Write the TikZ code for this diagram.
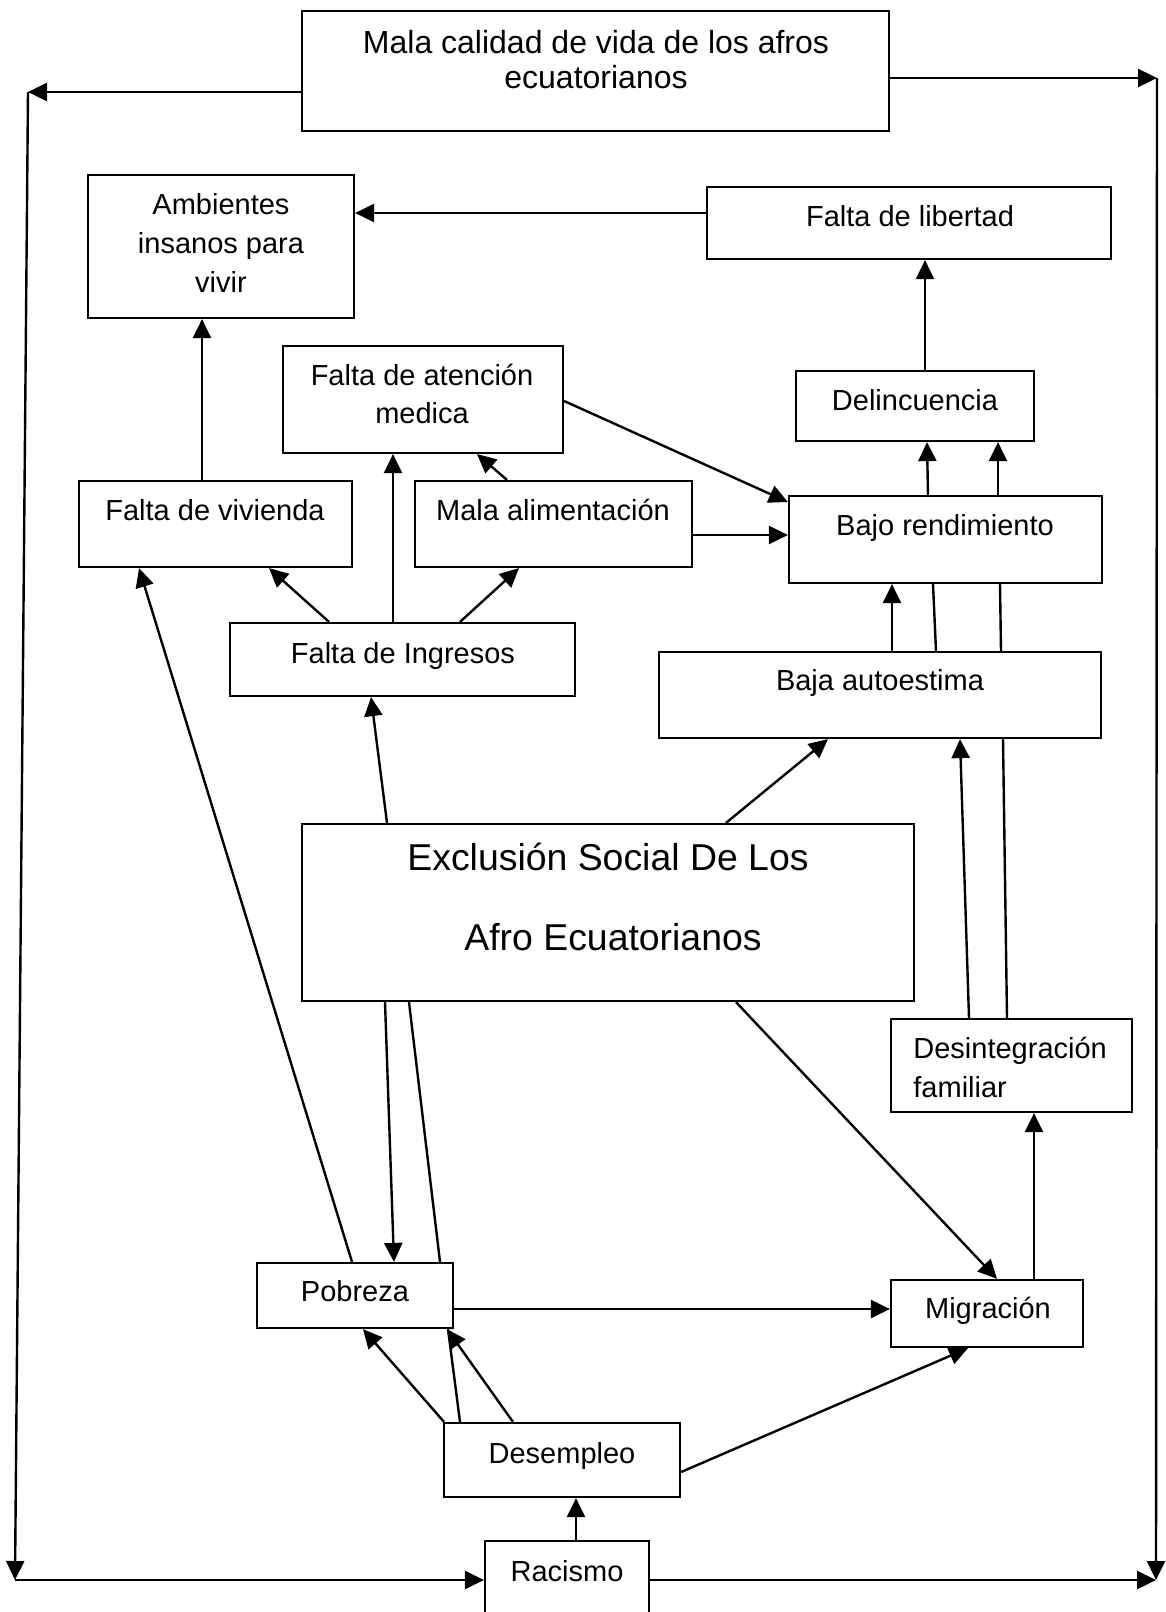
\documentclass[tikz,border=0pt]{standalone}
\usepackage{fontspec}
\setmainfont{Liberation Sans}
\usetikzlibrary{arrows.meta,fit}
\begin{document}
\begin{tikzpicture}[x=0.5pt,y=-0.5pt,
  box/.style={draw,line width=1.1pt,inner sep=0pt,fill=none},
  txt/.style={inner sep=0pt,anchor=base,font=\fontsize{14.5}{17}\selectfont},
  txtbig/.style={inner sep=0pt,anchor=base,font=\fontsize{16}{19}\selectfont},
  txthuge/.style={inner sep=0pt,anchor=base,font=\fontsize{18.7}{22}\selectfont},
  arr/.style={line width=1.2pt,-{Triangle[length=9.5pt,width=9pt]}},
  ln/.style={line width=1.2pt}]
\useasboundingbox (0,0) rectangle (1166,1612);
\clip (0,0) rectangle (1166,1612);
% boxes
\node[box,fit={(302,11) (889,131)}] (top) {};
\node[box,fit={(88,175) (354,318)}] (amb) {};
\node[box,fit={(707,187) (1111,259)}] (lib) {};
\node[box,fit={(283,346) (563,453)}] (aten) {};
\node[box,fit={(796,371) (1034,441)}] (del) {};
\node[box,fit={(79,481) (352,567)}] (viv) {};
\node[box,fit={(415,481) (692,567)}] (ali) {};
\node[box,fit={(789,496) (1102,583)}] (bajo) {};
\node[box,fit={(230,623) (575,696)}] (ing) {};
\node[box,fit={(659,652) (1101,738)}] (aut) {};
\node[box,fit={(302,824) (914,1001)}] (exc) {};
\node[box,fit={(891,1019) (1132,1112)}] (des) {};
\node[box,fit={(257,1263) (453,1328)}] (pob) {};
\node[box,fit={(891,1280) (1083,1347)}] (mig) {};
\node[box,fit={(444,1423) (680,1497)}] (dem) {};
\node[box,fit={(485,1541) (649,1640)}] (rac) {};
% texts
\node[txtbig] (ttop1) at (596,53) {Mala calidad de vida de los afros};
\node[txtbig] (ttop2) at (596,88) {ecuatorianos};
\node[txt] (tamb1) at (221,214) {Ambientes};
\node[txt] (tamb2) at (221,253) {insanos para};
\node[txt] (tamb3) at (221,292) {vivir};
\node[txt] (tlib) at (910,226) {Falta de libertad};
\node[txt] (taten1) at (422,385) {Falta de atención};
\node[txt] (taten2) at (422,423) {medica};
\node[txt] (tdel) at (915,410) {Delincuencia};
\node[txt] (tviv) at (215,520) {Falta de vivienda};
\node[txt] (tali) at (553,520) {Mala alimentación};
\node[txt] (tbajo) at (945,535) {Bajo rendimiento};
\node[txt] (ting) at (403,663) {Falta de Ingresos};
\node[txt] (taut) at (880,690) {Baja autoestima};
\node[txthuge] (texc1) at (608,870) {Exclusión Social De Los};
\node[txthuge] (texc2) at (613,950) {Afro Ecuatorianos};
\node[txt,anchor=base west] (tdes1) at (913,1058) {Desintegración};
\node[txt,anchor=base west] (tdes2) at (913,1097) {familiar};
\node[txt] (tpob) at (355,1301) {Pobreza};
\node[txt] (tmig) at (988,1318) {Migración};
\node[txt] (tdem) at (562,1463) {Desempleo};
\node[txt] (trac) at (567,1581) {Racismo};
% frame corners
\coordinate (tl) at (28,92);
\coordinate (bl) at (15,1580);
\coordinate (tr) at (1157,78);
\coordinate (br) at (1156,1580);
% frame connectors
\draw[arr] (top.west |- 0,92) -- (tl);
\draw[arr] (tl) -- (bl);
\draw[arr] (bl) -- (rac.west |- 0,1580);
\draw[arr] (top.east |- 0,78) -- (tr);
\draw[arr] (tr) -- (br);
\draw[arr] (rac.east |- 0,1580) -- (br);
% upper connectors
\draw[arr] (lib.west |- 0,213) -- (amb.east |- 0,213);
\draw[arr] (925,0 |- del.north) -- (925,0 |- lib.south);
\draw[arr] (928,0 |- bajo.north) -- (927,0 |- del.south);
\draw[arr] (998,0 |- bajo.north) -- (998,0 |- del.south);
\draw[arr] (aten.east |- 0,401) -- (bajo.west |- 0,502);
\draw[arr] (ali.east |- 0,535) -- (bajo.west |- 0,535);
\draw[arr] (507,0 |- ali.north) -- (477,0 |- aten.south);
\draw[arr] (202,0 |- viv.north) -- (202,0 |- amb.south);
\draw[arr] (329,0 |- ing.north) -- (269,0 |- viv.south);
\draw[arr] (393,0 |- ing.north) -- (393,0 |- aten.south);
\draw[arr] (460,0 |- ing.north) -- (519,0 |- ali.south);
\draw[arr] (387,0 |- exc.north) -- (371,0 |- ing.south);
\draw[arr] (726,0 |- exc.north) -- (828,0 |- aut.south);
\draw[arr] (892,0 |- aut.north) -- (892,0 |- bajo.south);
\draw[ln] (936,0 |- aut.north) -- (933,0 |- bajo.south);
\draw[ln] (1001,0 |- aut.north) -- (1000,0 |- bajo.south);
\draw[arr] (969,0 |- des.north) -- (960,0 |- aut.south);
\draw[ln] (1007,0 |- des.north) -- (1003,0 |- aut.south);
% lower connectors
\draw[arr] (385,0 |- exc.south) -- (394,0 |- pob.north);
\draw[ln] (409,0 |- exc.south) -- (440,0 |- pob.north);
\draw[ln] (448,0 |- pob.south) -- (460,0 |- dem.north);
\draw[arr] (352,0 |- pob.north) -- (139,0 |- viv.south);
\draw[arr] (pob.east |- 0,1309) -- (mig.west |- 0,1309);
\draw[arr] (736,0 |- exc.south) -- (997,0 |- mig.north);
\draw[arr] (dem.east |- 0,1472) -- (968,0 |- mig.south);
\draw[arr] (1034,0 |- mig.north) -- (1034,0 |- des.south);
\draw[arr] (576,0 |- rac.north) -- (576,0 |- dem.south);
\draw[arr] (444,0 |- dem.north) -- (363,0 |- pob.south);
\draw[arr] (513,0 |- dem.north) -- (447,0 |- pob.south);
\end{tikzpicture}
\end{document}
